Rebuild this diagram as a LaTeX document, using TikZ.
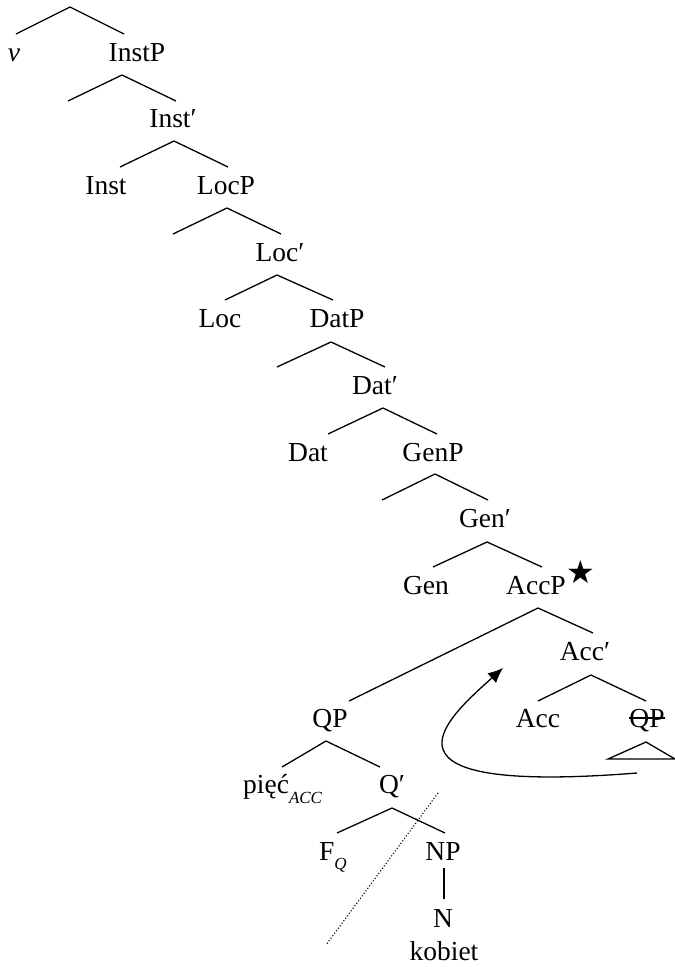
\documentclass[tikz,border=0pt]{standalone}
\usepackage{fontspec}
\setmainfont{Liberation Serif}
\newfontfamily\symfont{DejaVu Sans}
\usetikzlibrary{arrows.meta,calc}
\begin{document}
\begin{tikzpicture}[x=1pt,y=-1pt,
  lab/.style={anchor=base, inner sep=0pt, font=\fontsize{27.5}{30}\selectfont},
  br/.style={line width=1.3pt}]
\useasboundingbox (0,0) rectangle (675,967);
% labels
\node[lab] (v) at (14,61) {\itshape v};
\node[lab] (instp) at (137,61) {InstP};
\node[lab] (instbar) at (173,127.5) {Inst′};
\node[lab] (inst) at (106,194) {Inst};
\node[lab] (locp) at (226,194) {LocP};
\node[lab] (locbar) at (280,261) {Loc′};
\node[lab] (loc) at (220,327.5) {Loc};
\node[lab] (datp) at (337,327.5) {DatP};
\node[lab] (datbar) at (375,394) {Dat′};
\node[lab] (dat) at (308,461) {Dat};
\node[lab] (genp) at (433,461) {GenP};
\node[lab] (genbar) at (485,527) {Gen′};
\node[lab] (gen) at (426,594) {Gen};
\node[lab] (accp) at (536,594) {AccP};
\node[anchor=center, inner sep=0pt, font=\symfont\fontsize{32}{34}\selectfont] (star) at (581,572) {★};
\node[lab] (accbar) at (585,660.5) {Acc′};
\node[lab] (qp) at (330,727) {QP};
\node[lab] (acc) at (538,727) {Acc};
\node[lab] (qps) at (647,727) {QP};
\node[lab, anchor=base west] (piec) at (243,793) {pięć\raisebox{-10pt}{\fontsize{17}{20}\selectfont\itshape ACC}};
\node[lab] (qbar) at (392,793) {Q′};
\node[lab, anchor=base west] (fq) at (319,860) {F\raisebox{-9pt}{\fontsize{17}{20}\selectfont\itshape Q}};
\node[lab] (np) at (443,860) {NP};
\node[lab] (n) at (443,927) {N};
\node[lab] (kob) at (444,960) {kobiet};
% tree coordinates
\coordinate (l1) at (16,34);  \coordinate (a1) at (70,7);   \coordinate (r1) at (124,34);
\coordinate (l2) at (68,101); \coordinate (a2) at (122,75); \coordinate (r2) at (176,101);
\coordinate (l3) at (120,167);\coordinate (a3) at (174,141);\coordinate (r3) at (228,167);
\coordinate (l4) at (173,234);\coordinate (a4) at (227,208);\coordinate (r4) at (281,234);
\coordinate (l5) at (225,300);\coordinate (a5) at (277,275);\coordinate (r5) at (333,300);
\coordinate (l6) at (277,367);\coordinate (a6) at (331,342);\coordinate (r6) at (385,367);
\coordinate (l7) at (328,434);\coordinate (a7) at (383,408);\coordinate (r7) at (437,434);
\coordinate (l8) at (382,500);\coordinate (a8) at (435,474);\coordinate (r8) at (488,500);
\coordinate (l9) at (433,567);\coordinate (a9) at (487,542);\coordinate (r9) at (542,567);
\coordinate (l10) at (349,701);\coordinate (a10) at (538,608);\coordinate (r10) at (593,633);
\coordinate (l11) at (538,701);\coordinate (a11) at (591,675);\coordinate (r11) at (646,701);
\coordinate (l12) at (282,767);\coordinate (a12) at (326,741);\coordinate (r12) at (380,767);
\coordinate (l13) at (337,833);\coordinate (a13) at (392,808);\coordinate (r13) at (445,833);
\coordinate (tl) at (608,759);\coordinate (ta) at (646,742);\coordinate (tr) at (675,759);
\coordinate (nt) at (444,868);\coordinate (nb) at (444,899);
\coordinate (d1) at (438,793);\coordinate (d2) at (326,945);
\coordinate (astart) at (637,773);\coordinate (atip) at (503,668);
% branches
\foreach \i in {1,...,13} {\draw[br] (l\i) -- (a\i) -- (r\i);}
\draw[br] (tl) -- (ta) -- (tr) -- cycle;
\draw[br] (nt) -- (nb);
\draw[line width=1.1pt, dotted] (d1) -- (d2);
% strike-through
\draw[line width=1.1pt] ($(qps.base west)+(0,-9)$) -- ($(qps.base east)+(0,-9)$);
% movement arrow
\draw[line width=1.3pt, -{Latex[length=15pt,width=13pt]}] (astart) .. controls (360,795) and (445,720) .. (atip);
\end{tikzpicture}
\end{document}
